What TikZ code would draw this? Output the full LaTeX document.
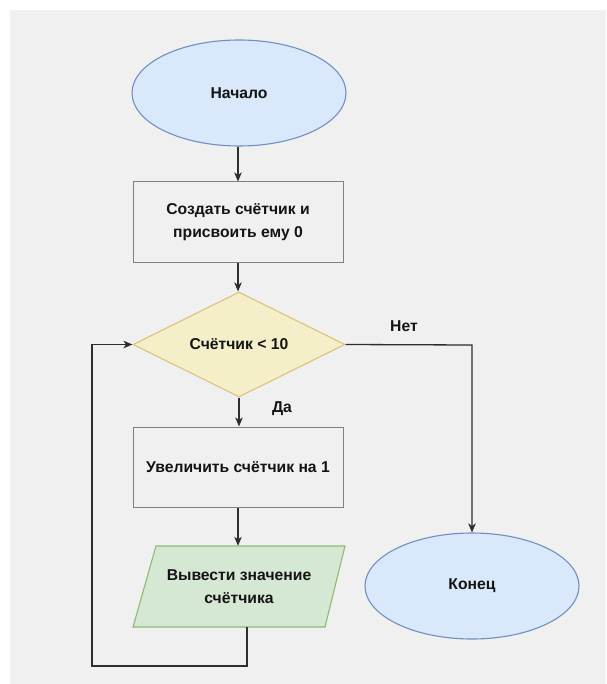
\documentclass[tikz,border=0pt]{standalone}
\usepackage{fontspec}
\setmainfont{Liberation Sans}
\usetikzlibrary{shapes.geometric,arrows.meta}

\definecolor{canvas}{HTML}{F0F0F0}
\definecolor{termfill}{HTML}{DAE8FC}
\definecolor{termline}{HTML}{7090BF}
\definecolor{condfill}{HTML}{F4EFC8}
\definecolor{condline}{HTML}{D8C47E}
\definecolor{iofill}{HTML}{D5E8D4}
\definecolor{ioline}{HTML}{8CBB72}
\definecolor{boxline}{HTML}{808080}
\definecolor{wire}{HTML}{2E2E2E}
\definecolor{ink}{HTML}{141414}

\tikzset{
  lbl/.style={font=\bfseries\fontsize{15.7}{23.5}\selectfont, text=ink, align=center},
  terminal/.style={ellipse, lbl, fill=termfill, draw=termline, line width=1.1pt,
                   minimum width=214pt, minimum height=106pt, inner sep=0pt},
  process/.style={rectangle, lbl, fill=canvas, draw=boxline, line width=1pt,
                  minimum width=210pt, minimum height=80pt, inner sep=0pt},
  decision/.style={diamond, lbl, fill=condfill, draw=condline, line width=1.1pt,
                   minimum width=212pt, minimum height=105pt, inner sep=-8pt},
  iobox/.style={rectangle, lbl, minimum width=212pt, minimum height=81pt, inner sep=0pt},
  iopath/.style={fill=iofill, draw=ioline, line width=1.1pt, line join=miter},
  flow/.style={draw=wire, line width=1.3pt,
               -{Stealth[length=9pt,width=7.5pt,inset=2.5pt]}},
  wirelabel/.style={font=\bfseries\fontsize{15.7}{18}\selectfont, text=ink},
}

\begin{document}
\begin{tikzpicture}[x=1pt,y=-1pt]
  \useasboundingbox (0,0) rectangle (606,684);
  \fill[white] (0,0) rectangle (606,684);
  \fill[canvas] (10,10) rectangle (606,684);

  % start / end
  \node[terminal] (start) at (239,93) {Начало};
  \node[terminal] (stop) at (472,586) {Конец};

  % steps
  \node[process] (init) at (238,222) {Создать счётчик и\\присвоить ему 0};
  \node[decision] (cond) at (239,344.5) {Счётчик < 10};
  \node[process] (inc) at (238,467) {Увеличить счётчик на 1};

  % output parallelogram
  \coordinate (ptl) at (156,546);
  \coordinate (ptr) at (345,546);
  \coordinate (pbr) at (325,627);
  \coordinate (pbl) at (133,627);
  \path[iopath] (ptl) -- (ptr) -- (pbr) -- (pbl) -- cycle;
  \node[iobox] (out) at (239,586.5) {Вывести значение\\счётчика};

  % connectors
  \draw[flow] (start.south -| init.north) -- (init.north);
  \draw[flow] (init.south) -- (init.south |- cond.north);
  \draw[flow] (cond.south) -- (cond.south |- inc.north);
  \draw[flow] (inc.south) -- (inc.south |- out.north);

  \coordinate (noturn) at (472,345);
  \draw[flow] (cond.east) -- (noturn) -- (stop.north);

  \coordinate (loopa) at (247,627);
  \coordinate (loopb) at (247,666);
  \coordinate (loopc) at (92,666);
  \coordinate (loopd) at (92,344.5);
  \draw[flow] (loopa) -- (loopb) -- (loopc) -- (loopd) -- (cond.west);

  % branch labels
  \node[wirelabel] (yes) at (282,409) {Да};
  \node[wirelabel] (no) at (404,326) {Нет};
\end{tikzpicture}
\end{document}
